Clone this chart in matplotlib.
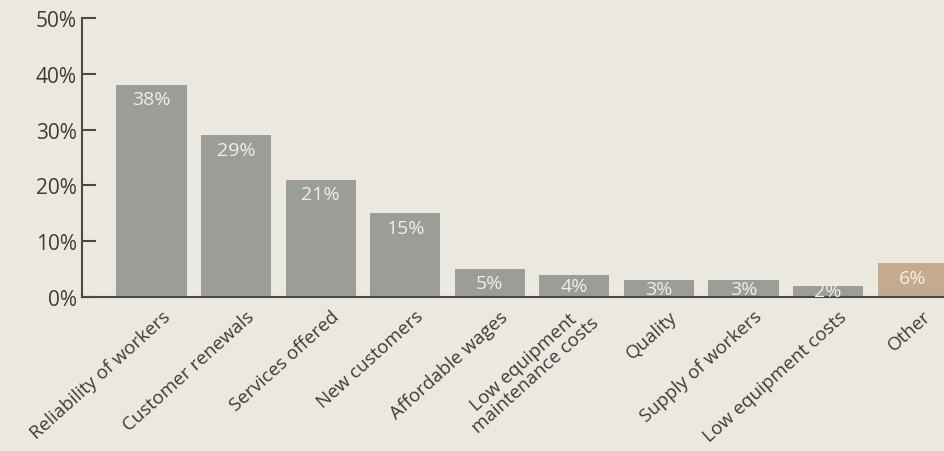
import matplotlib
matplotlib.use("Agg")
import matplotlib.pyplot as plt
import matplotlib.transforms as mtransforms
import numpy as np

categories = ["Reliability of workers", "Customer renewals", "Services offered",
              "New customers", "Affordable wages", "Low equipment\nmaintenance costs",
              "Quality", "Supply of workers", "Low equipment costs", "Other"]
values = [38, 29, 21, 15, 5, 4, 3, 3, 2, 6]
bar_labels = ["38%", "29%", "21%", "15%", "5%", "4%", "3%", "3%", "2%", "6%"]
y_ticks = [0, 10, 20, 30, 40, 50]
y_tick_labels = ["0%", "10%", "20%", "30%", "40%", "50%"]

plt.rcParams['font.family'] = ['Open Sans', 'DejaVu Sans']

bg = "#ebe8e0"
gray = "#9a9d98"
tan = "#c6aa8d"
text_col = "#3c3b38"

fig = plt.figure(figsize=(9.44, 4.52), dpi=100, facecolor=bg)
ax = fig.add_axes([0.087, 0.341, 0.913, 0.617])
ax.set_facecolor(bg)

x = np.arange(len(values))
colors = [gray] * (len(values) - 1) + [tan]
ax.bar(x, values, width=0.83, color=colors, zorder=2)

for xi, v, lab in zip(x, values, bar_labels):
    ax.text(xi, v - min(2.6, v / 2), lab, ha="center", va="center",
            color="#efefe9", fontsize=14, zorder=3)

ax.set_xlim(-0.82, 9.37)
ax.set_ylim(0, 50)
ax.set_yticks(y_ticks)
ax.set_yticklabels(y_tick_labels, fontsize=15, color=text_col)
ax.tick_params(axis="y", direction="in", length=10, width=1.5, color="#4a4946", pad=4)
ax.tick_params(axis="x", length=0, pad=2)

ax.set_xticks(x)
ax.set_xticklabels(categories, rotation=42, ha="right", va="center",
                   rotation_mode="anchor", fontsize=13.5, color=text_col,
                   multialignment="center", linespacing=0.95)
offset = mtransforms.ScaledTranslation(16 / 100, -14 / 100, fig.dpi_scale_trans)
for lbl in ax.get_xticklabels():
    lbl.set_transform(lbl.get_transform() + offset)

for s in ["top", "right"]:
    ax.spines[s].set_visible(False)
ax.spines["left"].set_color("#4a4946")
ax.spines["bottom"].set_color("#4a4946")
ax.spines["left"].set_linewidth(1.5)
ax.spines["bottom"].set_linewidth(1.5)

fig.savefig("out.png", dpi=100, facecolor=bg)
